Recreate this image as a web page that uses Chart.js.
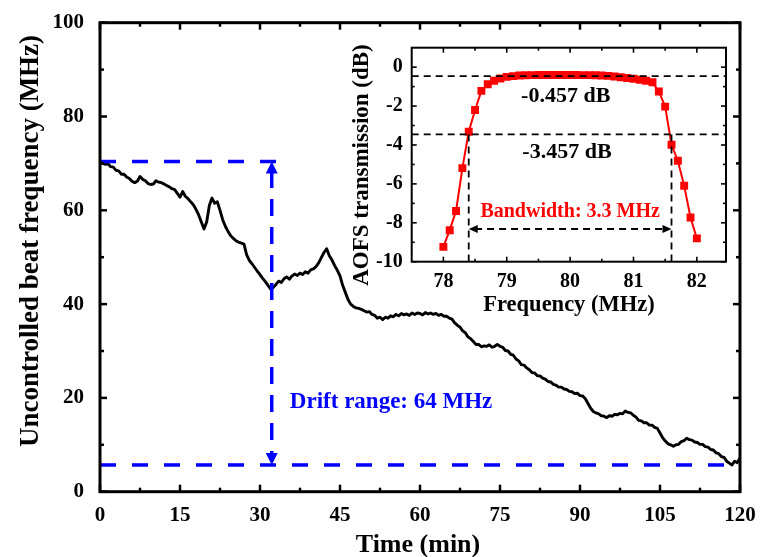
<!DOCTYPE html>
<html>
<head>
<meta charset="utf-8">
<script src="https://cdn.jsdelivr.net/npm/chart.js@4.4.1/dist/chart.umd.min.js"></script>
<style>
  html, body { margin: 0; padding: 0; background: #fff; }
  #wrap { position: relative; width: 766px; height: 557px; }
  #main { position: absolute; left: 0; top: 0; }
  #inset { position: absolute; left: 345px; top: 28px; }
</style>
</head>
<body>
<div id="wrap">
  <canvas id="main" width="766" height="557"></canvas>
  <canvas id="inset" width="400" height="292"></canvas>
</div>
<script>
// main trace: uncontrolled beat frequency over two hours
const timeMin = [
  0,0.5,1,1.5,2,2.5,3,3.5,4,4.5,5,5.5,6,6.5,7,7.5,8,8.5,9,9.5,
  10,10.5,11,11.5,12,12.5,13,13.5,14,14.5,15,15.5,16,16.5,17,17.5,18,18.5,19,19.5,
  20,20.5,21,21.5,22,22.5,23,23.5,24,24.5,25,25.5,26,26.5,27,27.5,28,28.5,29,29.5,
  30,30.5,31,31.5,32,32.5,33,33.5,34,34.5,35,35.5,36,36.5,37,37.5,38,38.5,39,39.5,
  40,40.5,41,41.5,42,42.5,43,43.5,44,44.5,45,45.5,46,46.5,47,47.5,48,48.5,49,49.5,
  50,50.5,51,51.5,52,52.5,53,53.5,54,54.5,55,55.5,56,56.5,57,57.5,58,58.5,59,59.5,
  60,60.5,61,61.5,62,62.5,63,63.5,64,64.5,65,65.5,66,66.5,67,67.5,68,68.5,69,69.5,
  70,70.5,71,71.5,72,72.5,73,73.5,74,74.5,75,75.5,76,76.5,77,77.5,78,78.5,79,79.5,
  80,80.5,81,81.5,82,82.5,83,83.5,84,84.5,85,85.5,86,86.5,87,87.5,88,88.5,89,89.5,
  90,90.5,91,91.5,92,92.5,93,93.5,94,94.5,95,95.5,96,96.5,97,97.5,98,98.5,99,99.5,
  100,100.5,101,101.5,102,102.5,103,103.5,104,104.5,105,105.5,106,106.5,107,107.5,108,108.5,109,109.5,
  110,110.5,111,111.5,112,112.5,113,113.5,114,114.5,115,115.5,116,116.5,117,117.5,118,118.5,119,119.5,
  120
];
const beatFreq = [
  70.3,70.0,69.8,69.9,69.3,69.2,68.5,68.4,67.7,67.7,67.1,66.8,66.2,65.9,66.2,67.2,66.6,66.3,65.7,65.5,
  65.6,66.3,66.0,65.9,65.6,65.3,65.0,64.6,64.4,63.6,62.8,64.0,63.0,62.5,61.8,61.2,60.2,59.0,57.5,56.0,
  57.5,61.0,62.6,61.5,61.8,60.0,58.0,56.6,55.5,54.6,54.0,53.5,53.2,53.0,52.8,50.5,49.3,48.6,47.8,47.0,
  46.3,45.5,44.8,44.0,43.2,43.6,44.2,44.9,44.6,45.4,45.8,45.3,46.0,46.4,46.1,46.6,46.3,46.9,46.6,47.3,
  47.5,48.0,48.8,49.9,51.0,51.8,50.3,49.4,48.2,47.2,46.0,44.0,42.5,41.0,40.0,39.5,39.2,39.1,38.9,38.6,
  38.3,38.4,37.8,37.6,37.0,37.2,36.7,37.2,37.0,37.5,37.3,37.8,37.5,38.0,37.7,37.9,37.6,38.1,37.8,38.1,
  38.0,37.7,38.2,37.9,38.1,37.8,38.0,37.6,37.8,37.4,37.4,37.0,36.8,36.0,35.5,35.1,34.3,33.9,33.0,32.6,
  32.0,31.4,31.4,30.9,31.1,31.0,31.3,30.8,31.0,31.4,31.0,30.8,30.1,30.0,29.3,29.1,28.3,27.9,27.1,27.0,
  26.4,26.0,25.4,25.3,24.7,24.7,24.2,24.0,23.5,23.4,22.9,22.7,22.3,22.3,21.9,21.8,21.4,21.3,20.9,21.0,
  20.5,20.4,19.8,18.8,17.8,17.1,16.8,16.6,16.2,16.1,15.8,16.2,16.1,16.5,16.4,16.7,16.6,17.2,16.9,16.8,
  16.3,15.9,15.2,15.1,14.7,14.7,14.2,14.2,13.7,13.5,12.5,11.5,10.8,10.2,10.0,9.7,10.0,10.1,10.7,10.9,
  11.4,11.1,11.0,10.6,10.5,10.1,10.1,9.6,9.5,9.0,8.9,8.3,8.1,7.5,7.3,6.5,6.1,5.7,6.5,6.2,
  7.2
];
const timeTicks = [0, 15, 30, 45, 60, 75, 90, 105, 120];
const timeMinorTicks = [7.5, 22.5, 37.5, 52.5, 67.5, 82.5, 97.5, 112.5];
const freqTicks = [0, 20, 40, 60, 80, 100];
const freqMinorTicks = [10, 30, 50, 70, 90];

// drift-range marker
const driftTop = 70.4;
const driftBottom = 5.7;
const driftTime = 32.2;
const driftTopEnd = 35;
const driftLabel = 'Drift range: 64 MHz';
const driftLabelAt = [35.6, 19.2];

// inset: AOFS transmission
const aofsFreq = [
  78.0,78.1,78.2,78.3,78.4,78.5,78.6,78.7,78.8,78.9,
  79.0,79.1,79.2,79.3,79.4,79.5,79.6,79.7,79.8,79.9,
  80.0,80.1,80.2,80.3,80.4,80.5,80.6,80.7,80.8,80.9,
  81.0,81.1,81.2,81.3,81.4,81.5,81.6,81.7,81.8,81.9,
  82.0
];
const aofsDb = [
  -9.24,-8.38,-7.39,-5.19,-3.32,-2.20,-1.22,-0.88,-0.70,-0.58,
  -0.50,-0.46,-0.43,-0.42,-0.41,-0.40,-0.40,-0.40,-0.40,-0.40,
  -0.40,-0.40,-0.41,-0.41,-0.42,-0.43,-0.45,-0.48,-0.52,-0.56,
  -0.60,-0.65,-0.70,-0.78,-1.25,-2.03,-3.99,-4.81,-6.10,-7.73,
  -8.80
];
const insetXTicks = [78, 79, 80, 81, 82];
const insetXMinor = [78.5, 79.5, 80.5, 81.5];
const insetYTicks = [0, -2, -4, -6, -8, -10];
const insetYMinor = [-1, -3, -5, -7, -9];
const levelTop = -0.457;
const levelBottom = -3.457;
const edgeLeft = 78.4;
const edgeRight = 81.6;
const bandArrowDb = -8.32;
const insetLabels = [
  { text: '-0.457 dB', x: 79.93, y: -1.49, color: '#000', size: 22 },
  { text: '-3.457 dB', x: 79.95, y: -4.39, color: '#000', size: 22 },
  { text: 'Bandwidth: 3.3 MHz', x: 80.0, y: -7.42, color: '#ff0000', size: 20 }
];

const SERIF = '"Liberation Serif", "Times New Roman", serif';
const BLUE = '#0000ff';

function pts(xs, ys) {
  return xs.map((x, i) => ({ x: x, y: ys[i] }));
}

function frameTicks(cfg) {
  return {
    id: 'frameTicks',
    afterDatasetsDraw(chart) {
      const { ctx, chartArea: a } = chart;
      const xs = chart.scales.x, ys = chart.scales.y;
      ctx.save();
      ctx.strokeStyle = '#000';
      ctx.lineWidth = cfg.tickWidth;
      const seg = (x1, y1, x2, y2) => {
        ctx.beginPath(); ctx.moveTo(x1, y1); ctx.lineTo(x2, y2); ctx.stroke();
      };
      const xt = (vals, len) => vals.forEach(v => {
        const p = xs.getPixelForValue(v);
        seg(p, a.bottom, p, a.bottom - len);
        seg(p, a.top, p, a.top + len);
      });
      const yt = (vals, len) => vals.forEach(v => {
        const p = ys.getPixelForValue(v);
        seg(a.left, p, a.left + len, p);
        seg(a.right, p, a.right - len, p);
      });
      xt(cfg.xMajor, cfg.major); xt(cfg.xMinor, cfg.minor);
      yt(cfg.yMajor, cfg.major); yt(cfg.yMinor, cfg.minor);
      ctx.lineWidth = cfg.frameWidth;
      ctx.strokeRect(a.left, a.top, a.right - a.left, a.bottom - a.top);
      ctx.restore();
    }
  };
}

function arrowHead(ctx, x, y, dx, dy, len, half, color) {
  // tip at (x, y), pointing along (dx, dy)
  const bx = x - dx * len, by = y - dy * len;
  ctx.fillStyle = color;
  ctx.beginPath();
  ctx.moveTo(x, y);
  ctx.lineTo(bx - dy * half, by + dx * half);
  ctx.lineTo(bx + dy * half, by - dx * half);
  ctx.closePath();
  ctx.fill();
}

function axisTitle(ctx, text, x, y, size, rotate) {
  ctx.save();
  ctx.translate(x, y);
  if (rotate) ctx.rotate(-Math.PI / 2);
  ctx.font = 'bold ' + size + 'px ' + SERIF;
  ctx.fillStyle = '#000';
  ctx.textAlign = 'center';
  ctx.textBaseline = 'middle';
  ctx.fillText(text, 0, 0);
  ctx.restore();
}

const mainDecor = {
  id: 'mainDecor',
  afterDraw(chart) {
    const { ctx } = chart;
    const xs = chart.scales.x, ys = chart.scales.y;
    const px = xs.getPixelForValue(driftTime);
    arrowHead(ctx, px, ys.getPixelForValue(driftTop), 0, -1, 12, 6, BLUE);
    arrowHead(ctx, px, ys.getPixelForValue(driftBottom), 0, 1, 12, 6, BLUE);
    ctx.save();
    ctx.font = 'bold 23px ' + SERIF;
    ctx.fillStyle = BLUE;
    ctx.textAlign = 'left';
    ctx.textBaseline = 'middle';
    ctx.fillText(driftLabel, xs.getPixelForValue(driftLabelAt[0]), ys.getPixelForValue(driftLabelAt[1]));
    ctx.restore();
    axisTitle(ctx, 'Uncontrolled beat frequency (MHz)', 31, 241, 27, true);
    axisTitle(ctx, 'Time (min)', 418, 545, 26, false);
  }
};

const insetDecor = {
  id: 'insetDecor',
  afterDraw(chart) {
    const { ctx } = chart;
    const xs = chart.scales.x, ys = chart.scales.y;
    const ay = ys.getPixelForValue(bandArrowDb);
    arrowHead(ctx, xs.getPixelForValue(edgeLeft), ay, -1, 0, 9, 4, '#000');
    arrowHead(ctx, xs.getPixelForValue(edgeRight), ay, 1, 0, 9, 4, '#000');
    insetLabels.forEach(l => {
      ctx.save();
      ctx.font = 'bold ' + l.size + 'px ' + SERIF;
      ctx.fillStyle = l.color;
      ctx.textAlign = 'center';
      ctx.textBaseline = 'middle';
      ctx.fillText(l.text, xs.getPixelForValue(l.x), ys.getPixelForValue(l.y));
      ctx.restore();
    });
    axisTitle(ctx, 'AOFS transmission (dB)', 17, 137, 23, true);
    axisTitle(ctx, 'Frequency (MHz)', 224, 277, 22.5, false);
  }
};

const dashed = (data, color, width, dash, order) => ({
  data: data, borderColor: color, borderWidth: width, borderDash: dash,
  pointRadius: 0, fill: false, order: order
});

new Chart(document.getElementById('main'), {
  type: 'line',
  data: {
    datasets: [
      {
        data: pts(timeMin, beatFreq),
        borderColor: '#000', borderWidth: 2.9, pointRadius: 0,
        borderJoinStyle: 'round', fill: false, order: 2
      },
      dashed([{ x: 0, y: driftTop }, { x: driftTopEnd, y: driftTop }], BLUE, 3.5, [16, 16], 1),
      dashed([{ x: 0, y: driftBottom }, { x: 120, y: driftBottom }], BLUE, 3.5, [16, 16], 1),
      dashed([{ x: driftTime, y: driftTop - 2 }, { x: driftTime, y: driftBottom + 2 }], BLUE, 3.5, [17, 11], 1)
    ]
  },
  options: {
    responsive: false,
    animation: false,
    layout: { padding: { left: 0, top: 22.7, right: 26, bottom: 0 } },
    plugins: { legend: { display: false }, tooltip: { enabled: false } },
    scales: {
      x: {
        type: 'linear', min: 0, max: 120,
        afterBuildTicks: s => { s.ticks = timeTicks.map(v => ({ value: v })); },
        afterFit: s => { s.height = 65.3; },
        ticks: { color: '#000', padding: 3, maxRotation: 0, autoSkip: false,
                 font: { family: SERIF, size: 21, weight: 'bold' } },
        grid: { display: false }, border: { display: false }
      },
      y: {
        type: 'linear', min: 0, max: 100,
        afterBuildTicks: s => { s.ticks = freqTicks.map(v => ({ value: v })); },
        afterFit: s => { s.width = 100; },
        ticks: { color: '#000', padding: 8,
                 font: { family: SERIF, size: 21, weight: 'bold' } },
        grid: { display: false }, border: { display: false }
      }
    }
  },
  plugins: [frameTicks({
    xMajor: timeTicks, xMinor: timeMinorTicks, yMajor: freqTicks, yMinor: freqMinorTicks,
    major: 7, minor: 4, tickWidth: 2.5, frameWidth: 3
  }), mainDecor]
});

new Chart(document.getElementById('inset'), {
  type: 'line',
  data: {
    datasets: [
      {
        data: pts(aofsFreq, aofsDb),
        borderColor: '#ff0000', backgroundColor: '#ff0000', borderWidth: 2,
        pointStyle: 'rect', pointRadius: 5.6, pointBorderWidth: 0, fill: false, order: 2
      },
      dashed([{ x: 77.5, y: levelTop }, { x: 82.46, y: levelTop }], '#000', 1.8, [7, 5], 1),
      dashed([{ x: 77.5, y: levelBottom }, { x: 82.46, y: levelBottom }], '#000', 1.8, [7, 5], 1),
      dashed([{ x: edgeLeft, y: levelBottom }, { x: edgeLeft, y: -10 }], '#000', 1.8, [7, 5], 1),
      dashed([{ x: edgeRight, y: levelBottom }, { x: edgeRight, y: -10 }], '#000', 1.8, [7, 5], 1),
      dashed([{ x: edgeLeft + 0.1, y: bandArrowDb }, { x: edgeRight - 0.1, y: bandArrowDb }], '#000', 1.8, [7, 5], 1)
    ]
  },
  options: {
    responsive: false,
    animation: false,
    layout: { padding: { left: 0, top: 19.7, right: 19, bottom: 0 } },
    plugins: { legend: { display: false }, tooltip: { enabled: false } },
    scales: {
      x: {
        type: 'linear', min: 77.5, max: 82.46,
        afterBuildTicks: s => { s.ticks = insetXTicks.map(v => ({ value: v })); },
        afterFit: s => { s.height = 58.3; },
        ticks: { color: '#000', padding: 0, maxRotation: 0, autoSkip: false,
                 font: { family: SERIF, size: 20, weight: 'bold' } },
        grid: { display: false }, border: { display: false }
      },
      y: {
        type: 'linear', min: -10, max: 1,
        afterBuildTicks: s => { s.ticks = insetYTicks.map(v => ({ value: v })); },
        afterFit: s => { s.width = 66.7; },
        ticks: { color: '#000', padding: 1,
                 font: { family: SERIF, size: 20, weight: 'bold' } },
        grid: { display: false }, border: { display: false }
      }
    }
  },
  plugins: [frameTicks({
    xMajor: insetXTicks, xMinor: insetXMinor, yMajor: insetYTicks, yMinor: insetYMinor,
    major: 5, minor: 3, tickWidth: 1.6, frameWidth: 2
  }), insetDecor]
});
</script>
</body>
</html>
